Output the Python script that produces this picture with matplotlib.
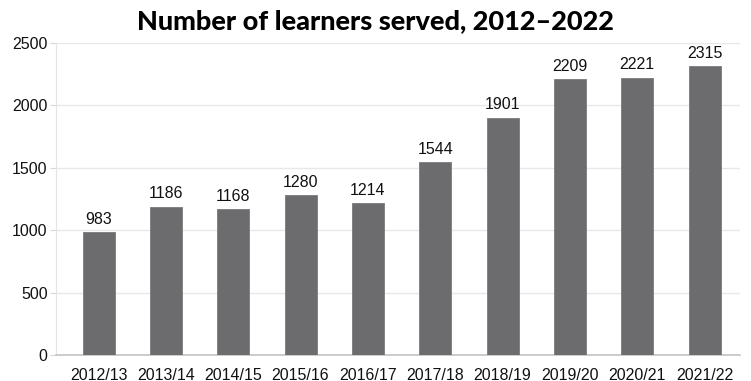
import matplotlib
matplotlib.use("Agg")
import matplotlib.pyplot as plt

years = ["2012/13", "2013/14", "2014/15", "2015/16", "2016/17",
         "2017/18", "2018/19", "2019/20", "2020/21", "2021/22"]
learners = [983, 1186, 1168, 1280, 1214, 1544, 1901, 2209, 2221, 2315]
y_ticks = [0, 500, 1000, 1500, 2000, 2500]

plt.rcParams["font.family"] = ["Liberation Sans", "DejaVu Sans"]

fig = plt.figure(figsize=(7.51, 3.81), dpi=100)
ax = fig.add_axes([56 / 751, 1 - 355 / 381, (740 - 56) / 751, (355 - 43) / 381])

x = list(range(len(years)))
ax.bar(x, learners, width=0.475, color="#6c6c6e", edgecolor="#7a7a7c",
       linewidth=0.6, zorder=3)

for xi, v in zip(x, learners):
    ax.annotate(f"{v}", (xi, v), xytext=(0, 4), textcoords="offset points",
                ha="center", va="bottom", fontsize=11.5, color="#111111")

ax.set_ylim(0, 2500)
ax.set_xlim(-0.632, 9.527)
ax.set_yticks(y_ticks)
ax.set_xticks(x)
ax.set_xticklabels(years)
ax.yaxis.grid(True, color="#e8e8e8", linewidth=1, zorder=0)

for s in ["top", "right"]:
    ax.spines[s].set_visible(False)
ax.spines["left"].set_color("#e4e4e4")
ax.spines["bottom"].set_color("#c4c4c4")
ax.spines["bottom"].set_linewidth(1.2)
ax.tick_params(axis="y", length=4, color="#d8d8d8", labelsize=11.5, pad=2,
               labelcolor="#111111")
ax.tick_params(axis="x", length=0, labelsize=11.5, pad=9, labelcolor="#111111")

fig.text(0.5, 1 - 21 / 381, "Number of learners served, 2012\u20132022",
         ha="center", va="center", fontsize=19.5, fontweight="black",
         family=["Lato", "DejaVu Sans"], color="#000000")

fig.savefig("out.png", dpi=100)
